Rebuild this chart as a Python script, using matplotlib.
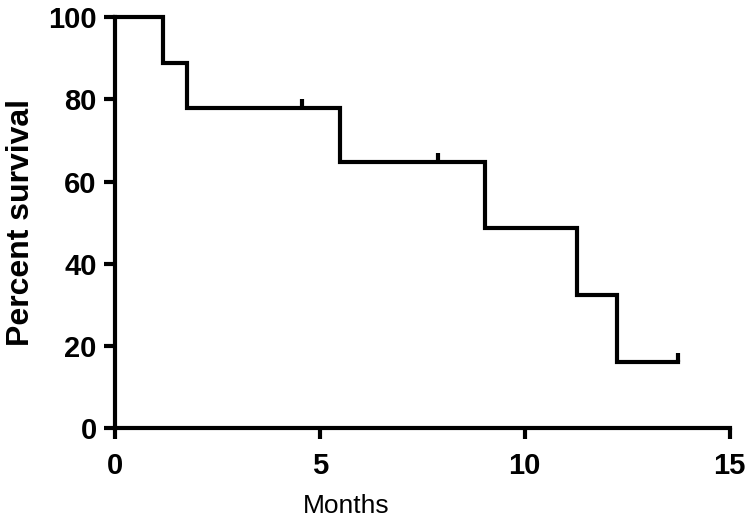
import numpy as np
import matplotlib
matplotlib.use('Agg')
import matplotlib.pyplot as plt

# Kaplan-Meier steps
step_times = [0, 1.17, 1.76, 5.49, 9.02, 11.27, 12.24]
survival = [100, 88.9, 77.8, 64.8, 48.6, 32.4, 16.2]
end_time = 13.73
censor_times = [4.56, 7.88, 13.73]

x_ticks = [0, 5, 10, 15]
y_ticks = [0, 20, 40, 60, 80, 100]

plt.rcParams['font.family'] = ['Liberation Sans', 'DejaVu Sans']

fig = plt.figure(figsize=(7.5, 5.21), dpi=100)
ax = fig.add_axes([0.153, 0.178, 0.82, 0.789])

xs = step_times + [end_time]
ys = survival + [survival[-1]]
ax.step(xs, ys, where='post', color='black', lw=3, solid_joinstyle='miter',
        clip_on=False)

# censor marks: short upward ticks on the curve
censor_y = [survival[np.searchsorted(step_times, t, side='right') - 1]
            for t in censor_times]
ax.vlines(censor_times, censor_y, np.array(censor_y) + 2.2, color='black',
          lw=3, clip_on=False)

ax.set_xlim(0, 15)
ax.set_ylim(0, 100)
ax.set_xticks(x_ticks)
ax.set_yticks(y_ticks)
for side in ['top', 'right']:
    ax.spines[side].set_visible(False)
for side in ['left', 'bottom']:
    ax.spines[side].set_linewidth(3)
    ax.spines[side].set_capstyle('projecting')
ax.tick_params(width=3, length=8, direction='out', labelsize=21)
ax.tick_params(axis='x', pad=9)
ax.tick_params(axis='y', pad=5)
for lbl in ax.get_xticklabels() + ax.get_yticklabels():
    lbl.set_fontweight('bold')

ax.set_xlabel('Months', fontsize=19)
ax.xaxis.set_label_coords(0.377, -0.16)
ax.set_ylabel('Percent survival', fontsize=23, fontweight='bold')
ax.yaxis.set_label_coords(-0.128, 0.5)

fig.savefig('out.png', dpi=100)
